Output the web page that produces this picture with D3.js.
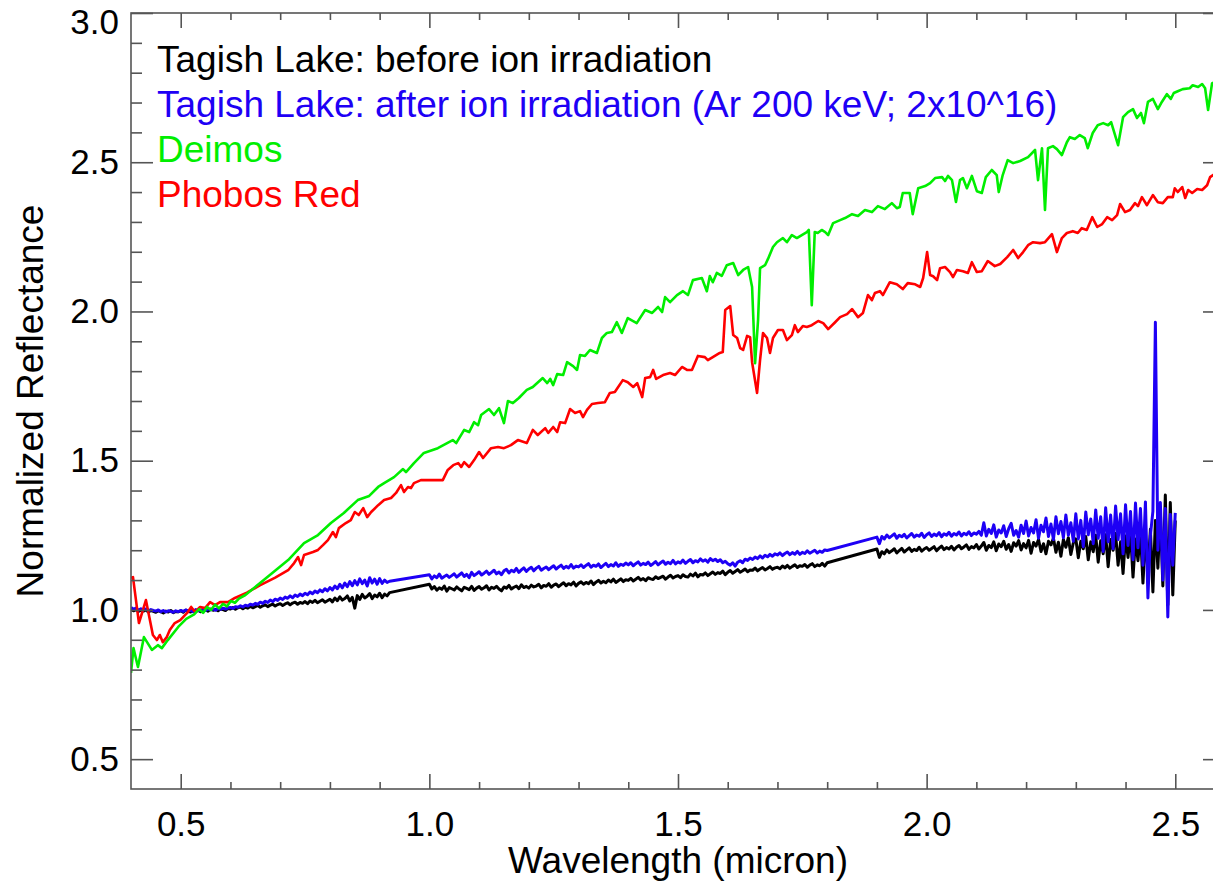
<!DOCTYPE html>
<html><head><meta charset="utf-8">
<script src="https://cdn.jsdelivr.net/npm/d3@7"></script>
<style>html,body{margin:0;padding:0;background:#fff;} svg{display:block;}</style>
</head><body><svg id="chart" width="1213" height="883"></svg>
<script>
// ---------- data ----------
const xMajorTicks = [0.5, 1.0, 1.5, 2.0, 2.5];
const xMinorTicks = [0.6,0.7,0.8,0.9,1.1,1.2,1.3,1.4,1.6,1.7,1.8,1.9,2.1,2.2,2.3,2.4];
const yMajorTicks = [0.5, 1.0, 1.5, 2.0, 2.5, 3.0];
const yMinorTicks = [0.6,0.7,0.8,0.9,1.1,1.2,1.3,1.4,1.6,1.7,1.8,1.9,2.1,2.2,2.3,2.4,2.6,2.7,2.8,2.9];

const legendLabels = [
  "Tagish Lake: before ion irradiation",
  "Tagish Lake: after ion irradiation (Ar 200 keV; 2x10^16)",
  "Deimos",
  "Phobos Red"
];

// Tagish Lake spectra: three sampled segments [start wavelength, step]
const tagishGrid = [[0.40, 0.005], [1.00, 0.005], [1.90, 0.005]];
const beforeSeg1 = [
 1.002,0.997,1.001,0.995,0.999,0.996,1.000,0.993,0.998,0.995,
 0.992,0.997,0.994,0.990,0.996,0.993,0.998,0.991,0.995,0.994,
 0.997,0.992,0.999,0.995,0.993,0.998,0.996,1.000,0.994,0.999,
 1.001,0.996,1.003,0.999,1.002,0.997,1.004,1.001,0.998,1.005,
 1.003,1.008,1.002,1.007,1.010,1.004,1.009,1.006,1.012,1.007,
 1.011,1.015,1.009,1.014,1.017,1.011,1.016,1.019,1.013,1.018,
 1.021,1.015,1.020,1.024,1.017,1.023,1.026,1.019,1.025,1.022,
 1.028,1.021,1.030,1.025,1.032,1.024,1.029,1.034,1.026,1.031,
 1.036,1.027,1.040,1.031,1.044,1.033,1.038,1.047,1.030,1.042,
 1.006,1.048,1.035,1.052,1.040,1.046,1.055,1.038,1.050,1.044,
 1.056,1.041,1.053,1.047,1.058];
const beforeSeg2 = [
 1.086,1.070,1.078,1.066,1.074,1.069,1.080,1.063,1.075,1.071,
 1.067,1.077,1.070,1.064,1.076,1.072,1.068,1.079,1.065,1.073,
 1.078,1.069,1.074,1.081,1.067,1.076,1.072,1.079,1.070,1.064,
 1.077,1.073,1.082,1.070,1.076,1.080,1.071,1.084,1.075,1.079,
 1.073,1.083,1.077,1.080,1.086,1.074,1.082,1.079,1.088,1.076,
 1.083,1.087,1.078,1.085,1.091,1.081,1.088,1.084,1.093,1.080,
 1.089,1.094,1.086,1.092,1.088,1.097,1.085,1.093,1.099,1.090,
 1.096,1.091,1.100,1.094,1.103,1.092,1.098,1.104,1.095,1.101,
 1.099,1.106,1.097,1.103,1.109,1.100,1.105,1.098,1.108,1.104,
 1.102,1.111,1.105,1.109,1.113,1.103,1.110,1.116,1.107,1.112,
 1.115,1.108,1.118,1.112,1.110,1.120,1.114,1.123,1.111,1.119,
 1.117,1.124,1.115,1.121,1.127,1.119,1.125,1.122,1.130,1.118,
 1.126,1.132,1.123,1.129,1.135,1.126,1.131,1.137,1.128,1.134,
 1.133,1.140,1.131,1.137,1.142,1.134,1.139,1.145,1.136,1.141,
 1.143,1.138,1.147,1.141,1.149,1.140,1.146,1.151,1.142,1.148,
 1.146,1.152,1.143,1.150,1.155,1.145,1.151,1.148,1.156,1.147,
 1.158];
const beforeSeg3 = [
 1.204,1.176,1.195,1.188,1.201,1.192,1.198,1.205,1.191,1.199,
 1.206,1.194,1.201,1.208,1.196,1.203,1.199,1.210,1.197,1.204,
 1.209,1.200,1.206,1.212,1.198,1.207,1.214,1.202,1.209,1.204,
 1.213,1.201,1.210,1.216,1.205,1.211,1.218,1.203,1.212,1.208,
 1.219,1.204,1.214,1.226,1.200,1.216,1.209,1.228,1.198,1.221,
 1.212,1.230,1.203,1.219,1.196,1.225,1.214,1.232,1.201,1.222,
 1.208,1.233,1.190,1.226,1.214,1.236,1.196,1.222,1.188,1.230,
 1.218,1.240,1.193,1.227,1.180,1.236,1.210,1.242,1.186,1.225,
 1.238,1.175,1.230,1.205,1.246,1.168,1.228,1.195,1.250,1.160,
 1.232,1.188,1.252,1.145,1.236,1.200,1.256,1.150,1.228,1.122,
 1.248,1.176,1.260,1.110,1.238,1.165,1.262,1.090,1.245,1.130,
 1.270,1.060,1.300,1.140,1.330,1.080,1.385,1.016,1.360,1.050,
 1.300];

const afterSeg1 = [
 1.008,1.002,1.006,0.999,1.004,1.000,1.003,0.997,1.001,0.998,
 0.996,1.000,0.994,0.998,0.993,0.997,0.995,0.992,0.997,0.994,
 0.998,0.995,1.000,0.996,0.999,0.994,1.001,0.997,0.999,1.002,
 0.998,1.003,1.000,1.004,0.999,1.005,1.002,1.006,1.003,1.007,
 1.008,1.005,1.011,1.009,1.014,1.010,1.016,1.013,1.019,1.016,
 1.022,1.019,1.026,1.022,1.029,1.025,1.033,1.028,1.036,1.032,
 1.040,1.035,1.043,1.039,1.047,1.041,1.050,1.045,1.053,1.048,
 1.056,1.051,1.060,1.054,1.063,1.058,1.067,1.061,1.071,1.064,
 1.075,1.067,1.080,1.071,1.086,1.074,1.090,1.078,1.095,1.081,
 1.098,1.084,1.104,1.088,1.100,1.080,1.108,1.090,1.103,1.086,
 1.105,1.089,1.100,1.092,1.096];
const afterSeg2 = [
 1.118,1.104,1.114,1.108,1.120,1.106,1.112,1.117,1.109,1.115,
 1.121,1.110,1.117,1.124,1.112,1.119,1.108,1.126,1.115,1.121,
 1.128,1.117,1.123,1.130,1.119,1.126,1.133,1.121,1.127,1.118,
 1.131,1.136,1.124,1.133,1.128,1.139,1.126,1.134,1.141,1.129,
 1.137,1.143,1.131,1.140,1.146,1.133,1.139,1.144,1.135,1.142,
 1.148,1.137,1.144,1.150,1.139,1.146,1.141,1.152,1.140,1.147,
 1.144,1.151,1.142,1.149,1.155,1.143,1.150,1.146,1.154,1.142,
 1.149,1.156,1.145,1.152,1.147,1.158,1.146,1.153,1.149,1.157,
 1.151,1.158,1.148,1.155,1.161,1.150,1.156,1.152,1.160,1.149,
 1.155,1.162,1.151,1.158,1.164,1.153,1.160,1.155,1.166,1.154,
 1.161,1.157,1.167,1.156,1.163,1.169,1.158,1.165,1.161,1.171,
 1.163,1.168,1.160,1.172,1.165,1.170,1.162,1.168,1.158,1.163,
 1.155,1.150,1.158,1.147,1.160,1.165,1.158,1.170,1.166,1.174,
 1.169,1.177,1.172,1.181,1.174,1.183,1.178,1.186,1.180,1.188,
 1.184,1.191,1.182,1.189,1.194,1.185,1.192,1.187,1.196,1.186,
 1.193,1.189,1.198,1.190,1.195,1.200,1.191,1.197,1.193,1.201,
 1.199];
const afterSeg3 = [
 1.244,1.222,1.246,1.238,1.251,1.242,1.248,1.255,1.240,1.250,
 1.245,1.253,1.241,1.249,1.256,1.244,1.251,1.247,1.257,1.243,
 1.252,1.258,1.246,1.254,1.249,1.259,1.245,1.255,1.250,1.260,
 1.247,1.256,1.251,1.261,1.248,1.257,1.252,1.262,1.249,1.258,
 1.254,1.263,1.250,1.292,1.248,1.270,1.256,1.285,1.244,1.268,
 1.258,1.282,1.246,1.272,1.290,1.250,1.266,1.244,1.284,1.256,
 1.298,1.248,1.276,1.258,1.302,1.240,1.284,1.262,1.308,1.246,
 1.288,1.236,1.312,1.255,1.296,1.242,1.318,1.250,1.292,1.230,
 1.322,1.238,1.300,1.212,1.328,1.252,1.305,1.222,1.335,1.240,
 1.312,1.196,1.342,1.228,1.318,1.205,1.348,1.236,1.322,1.188,
 1.352,1.216,1.330,1.168,1.358,1.208,1.340,1.150,1.362,1.040,
 1.250,1.330,1.964,1.200,1.360,1.100,1.340,0.976,1.320,1.150,
 1.325];

// Deimos: [wavelength, reflectance]
const deimos = [[0.400,0.789],[0.405,0.872],[0.414,0.809],[0.426,0.909],[0.442,0.866],[0.454,0.882],[0.462,0.872],[0.474,0.899],[0.495,0.943],[0.511,0.970],[0.527,0.985],[0.537,1.003],[0.545,0.990],[0.553,1.010],[0.561,1.000],[0.569,1.018],[0.577,1.005],[0.585,1.020],[0.593,1.012],[0.601,1.030],[0.609,1.024],[0.617,1.038],[0.630,1.050],[0.667,1.100],[0.716,1.167],[0.748,1.224],[0.776,1.251],[0.802,1.291],[0.828,1.325],[0.856,1.368],[0.879,1.382],[0.897,1.412],[0.909,1.425],[0.929,1.445],[0.947,1.472],[0.953,1.462],[0.969,1.492],[0.989,1.526],[1.017,1.542],[1.047,1.569],[1.054,1.559],[1.070,1.603],[1.080,1.596],[1.090,1.629],[1.098,1.619],[1.104,1.653],[1.120,1.673],[1.130,1.653],[1.140,1.676],[1.150,1.626],[1.158,1.700],[1.168,1.693],[1.180,1.710],
 [1.196,1.737],[1.208,1.747],[1.228,1.777],[1.237,1.760],[1.243,1.774],[1.249,1.753],[1.257,1.790],[1.269,1.787],[1.277,1.830],[1.289,1.817],[1.297,1.804],[1.303,1.854],[1.313,1.851],[1.323,1.871],[1.337,1.861],[1.347,1.911],[1.357,1.928],[1.367,1.931],[1.377,1.964],[1.387,1.928],[1.399,1.978],[1.417,1.961],[1.434,2.005],[1.448,1.995],[1.460,2.015],[1.468,1.998],[1.474,2.048],[1.484,2.031],[1.498,2.055],[1.510,2.068],[1.520,2.055],[1.530,2.105],[1.548,2.112],[1.558,2.068],[1.564,2.119],[1.570,2.098],[1.578,2.129],[1.588,2.119],[1.598,2.155],[1.611,2.162],[1.621,2.122],[1.631,2.139],[1.641,2.149],[1.649,2.082],[1.655,1.827],[1.661,1.971],[1.665,2.145],[1.675,2.155],[1.681,2.176],[1.691,2.216],[1.699,2.232],[1.711,2.246],[1.719,2.232],[1.729,2.256],[1.739,2.246],[1.749,2.256],[1.759,2.266],[1.763,2.273],[1.769,2.021],[1.775,2.266],[1.781,2.263],[1.789,2.273],[1.796,2.266],[1.802,2.256],[1.812,2.296],[1.826,2.306],
 [1.836,2.313],[1.850,2.326],[1.862,2.320],[1.876,2.340],[1.890,2.333],[1.902,2.353],[1.916,2.343],[1.930,2.363],[1.940,2.346],
 [1.946,2.350],[1.952,2.397],[1.966,2.397],[1.972,2.326],[1.983,2.413],[1.997,2.420],[2.007,2.430],[2.017,2.447],[2.031,2.450],[2.037,2.437],[2.043,2.454],[2.051,2.440],[2.059,2.367],[2.067,2.440],[2.073,2.447],[2.081,2.413],[2.091,2.454],[2.101,2.403],[2.111,2.397],[2.119,2.450],[2.131,2.474],[2.141,2.457],[2.145,2.400],[2.153,2.457],[2.163,2.507],[2.174,2.497],[2.188,2.504],[2.204,2.517],[2.218,2.541],[2.224,2.440],[2.232,2.547],[2.238,2.340],[2.244,2.547],[2.254,2.554],[2.262,2.544],[2.272,2.524],[2.282,2.567],[2.288,2.584],[2.298,2.578],[2.308,2.591],[2.318,2.581],[2.324,2.547],[2.334,2.598],[2.344,2.624],[2.355,2.631],[2.365,2.624],[2.371,2.634],[2.385,2.557],[2.395,2.651],[2.405,2.668],[2.415,2.678],[2.423,2.648],[2.431,2.665],[2.437,2.631],[2.445,2.702],[2.455,2.712],[2.465,2.678],[2.473,2.702],[2.483,2.728],[2.491,2.712],[2.497,2.732],[2.505,2.738],[2.515,2.745],[2.529,2.748],[2.535,2.758],[2.546,2.752],[2.554,2.762],[2.560,2.748],[2.566,2.675],[2.574,2.765],[2.585,2.770],[2.600,2.775]];

// Phobos Red: [wavelength, reflectance]
const phobosRed = [[0.400,1.107],[0.404,1.110],[0.416,0.956],[0.430,1.033],[0.438,0.966],[0.444,0.916],[0.452,0.899],[0.458,0.916],[0.464,0.892],[0.472,0.909],[0.478,0.933],[0.488,0.956],[0.499,0.966],[0.513,0.990],[0.521,1.010],[0.529,0.993],[0.539,1.010],[0.549,1.006],[0.559,1.026],[0.569,1.016],[0.579,1.026],[0.595,1.026],[0.609,1.040],[0.633,1.058],[0.659,1.082],[0.690,1.108],[0.716,1.133],[0.728,1.157],[0.736,1.177],[0.742,1.150],[0.748,1.184],[0.766,1.194],[0.776,1.201],[0.786,1.217],[0.796,1.234],[0.806,1.261],[0.812,1.244],[0.818,1.274],[0.832,1.291],[0.842,1.301],[0.850,1.328],[0.858,1.318],[0.867,1.341],[0.875,1.311],[0.883,1.328],[0.897,1.351],[0.909,1.368],[0.923,1.375],[0.933,1.392],[0.943,1.418],[0.949,1.395],[0.957,1.412],[0.963,1.408],[0.969,1.425],[0.983,1.435],[1.027,1.435],[1.037,1.469],[1.048,1.485],[1.058,1.492],[1.064,1.479],[1.070,1.495],[1.080,1.479],[1.090,1.502],[1.100,1.529],[1.108,1.509],[1.124,1.542],[1.138,1.546],[1.150,1.542],[1.164,1.552],[1.178,1.569],
 [1.196,1.559],[1.208,1.603],[1.218,1.586],[1.233,1.609],[1.239,1.593],[1.249,1.613],[1.257,1.596],[1.263,1.629],[1.273,1.626],[1.283,1.673],[1.293,1.660],[1.303,1.666],[1.309,1.646],[1.317,1.670],[1.327,1.690],[1.339,1.693],[1.353,1.696],[1.363,1.727],[1.373,1.730],[1.389,1.770],[1.399,1.763],[1.410,1.747],[1.418,1.760],[1.428,1.713],[1.434,1.777],[1.444,1.780],[1.450,1.804],[1.456,1.774],[1.470,1.787],[1.484,1.794],[1.494,1.787],[1.508,1.814],[1.518,1.804],[1.528,1.804],[1.540,1.851],[1.554,1.847],[1.560,1.837],[1.570,1.847],[1.584,1.861],[1.590,1.864],[1.595,2.005],[1.605,2.018],[1.611,1.921],[1.619,1.911],[1.625,1.877],[1.631,1.871],[1.639,1.918],[1.645,1.914],[1.649,1.830],[1.659,1.727],[1.665,1.837],[1.671,1.928],[1.679,1.911],[1.685,1.861],[1.691,1.911],[1.701,1.938],[1.711,1.938],[1.719,1.904],[1.729,1.921],[1.735,1.954],[1.741,1.931],[1.751,1.951],[1.759,1.948],[1.769,1.954],[1.782,1.968],[1.792,1.961],[1.802,1.941],[1.816,1.964],[1.826,1.981],[1.840,1.991],[1.850,2.008],[1.862,1.981],[1.872,1.995],[1.882,2.055],[1.890,2.038],[1.896,2.062],[1.906,2.068],[1.912,2.055],[1.926,2.098],[1.940,2.091],[1.952,2.075],[1.962,2.095],[1.977,2.091],[1.987,2.082],
 [1.993,2.112],[2.001,2.199],[2.007,2.122],[2.013,2.118],[2.021,2.105],[2.027,2.145],[2.037,2.149],[2.047,2.132],[2.053,2.115],[2.061,2.139],[2.073,2.135],[2.083,2.129],[2.091,2.165],[2.101,2.132],[2.111,2.135],[2.123,2.169],[2.137,2.152],[2.148,2.159],[2.162,2.182],[2.174,2.206],[2.184,2.179],[2.194,2.199],[2.204,2.222],[2.214,2.232],[2.228,2.229],[2.238,2.232],[2.252,2.259],[2.262,2.199],[2.272,2.246],[2.282,2.263],[2.294,2.269],[2.304,2.263],[2.312,2.279],[2.322,2.273],[2.333,2.316],[2.343,2.283],[2.353,2.293],[2.363,2.316],[2.373,2.306],[2.383,2.323],[2.389,2.360],[2.399,2.333],[2.409,2.340],[2.419,2.363],[2.425,2.353],[2.433,2.383],[2.443,2.356],[2.455,2.390],[2.465,2.366],[2.475,2.363],[2.485,2.383],[2.495,2.383],[2.499,2.413],[2.505,2.400],[2.514,2.417],[2.520,2.380],[2.526,2.407],[2.534,2.397],[2.544,2.410],[2.554,2.407],[2.564,2.423],[2.570,2.450],[2.576,2.457],[2.590,2.470],[2.600,2.475]];

// ---------- build ----------
function fromGrid(segs) {
  const out = [];
  segs.forEach((vals, k) => {
    const [w0, dw] = tagishGrid[k];
    vals.forEach((v, i) => out.push([+(w0 + i * dw).toFixed(3), v]));
  });
  return out;
}
const tagishBefore = fromGrid([beforeSeg1, beforeSeg2, beforeSeg3]);
const tagishAfter = fromGrid([afterSeg1, afterSeg2, afterSeg3]);

const colors = ["#000000", "#1e00f5", "#00ee00", "#ff0000"];
const FONT = "'Liberation Sans', Arial, Helvetica, sans-serif";
const FS_TICK = 35, FS_TEXT = 37;
const AXIS_COLOR = "#555";

const L = 131, R = 1225, T = 13, B = 789;
const x = d3.scaleLinear().domain([0.4, 2.6]).range([L, R]);
const y = d3.scaleLinear().domain([0.4, 3.0]).range([B, T]);

const svg = d3.select("#chart");
svg.append("rect").attr("width", 1213).attr("height", 883).attr("fill", "#fff");

svg.append("defs").append("clipPath").attr("id", "clip")
  .append("rect").attr("x", L).attr("y", T).attr("width", R - L).attr("height", B - T);

const line = d3.line().x(d => x(d[0])).y(d => y(d[1]));
const plot = svg.append("g").attr("clip-path", "url(#clip)");
const drawOrder = [[tagishBefore, 0, 3.0], [tagishAfter, 1, 3.0], [phobosRed, 3, 2.6], [deimos, 2, 2.6]];
drawOrder.forEach(([data, ci, sw]) => {
  plot.append("path").datum(data).attr("d", line)
    .attr("fill", "none").attr("stroke", colors[ci])
    .attr("stroke-width", sw).attr("stroke-linejoin", "round");
});

// frame
svg.append("rect").attr("x", L).attr("y", T).attr("width", R - L).attr("height", B - T)
  .attr("fill", "none").attr("stroke", AXIS_COLOR).attr("stroke-width", 1.6);

function styleAxis(g) {
  g.select(".domain").remove();
  g.selectAll(".tick line").attr("stroke", AXIS_COLOR).attr("stroke-width", 1.6);
  g.selectAll(".tick text").attr("fill", "#000").style("font-family", FONT).style("font-size", FS_TICK + "px");
}

// bottom
svg.append("g").attr("transform", `translate(0,${B})`)
  .call(d3.axisBottom(x).tickValues(xMajorTicks).tickSize(-15).tickPadding(22).tickFormat(d3.format(".1f")))
  .call(styleAxis);
svg.append("g").attr("transform", `translate(0,${B})`)
  .call(d3.axisBottom(x).tickValues(xMinorTicks).tickSize(-7).tickFormat(""))
  .call(styleAxis);
// top
svg.append("g").attr("transform", `translate(0,${T})`)
  .call(d3.axisTop(x).tickValues(xMajorTicks).tickSize(-15).tickFormat(""))
  .call(styleAxis);
svg.append("g").attr("transform", `translate(0,${T})`)
  .call(d3.axisTop(x).tickValues(xMinorTicks).tickSize(-7).tickFormat(""))
  .call(styleAxis);
// left
const leftAxis = svg.append("g").attr("transform", `translate(${L},0)`)
  .call(d3.axisLeft(y).tickValues(yMajorTicks).tickSize(-22).tickPadding(12).tickFormat(d3.format(".1f")))
  .call(styleAxis);
leftAxis.selectAll(".tick text").attr("transform", d => `translate(0,${Math.max(0, 22 - y(d))})`);
svg.append("g").attr("transform", `translate(${L},0)`)
  .call(d3.axisLeft(y).tickValues(yMinorTicks).tickSize(-11).tickFormat(""))
  .call(styleAxis);
// right
svg.append("g").attr("transform", `translate(${R},0)`)
  .call(d3.axisRight(y).tickValues(yMajorTicks).tickSize(-22).tickFormat(""))
  .call(styleAxis);
svg.append("g").attr("transform", `translate(${R},0)`)
  .call(d3.axisRight(y).tickValues(yMinorTicks).tickSize(-11).tickFormat(""))
  .call(styleAxis);

// axis titles
svg.append("text").attr("x", (L + R) / 2).attr("y", 873).attr("text-anchor", "middle")
  .style("font-family", FONT).style("font-size", FS_TEXT + "px").attr("fill", "#000")
  .text("Wavelength (micron)");
svg.append("text").attr("transform", `translate(43,${(T + B) / 2}) rotate(-90)`).attr("text-anchor", "middle")
  .style("font-family", FONT).style("font-size", FS_TEXT + "px").attr("fill", "#000")
  .text("Normalized Reflectance");

// legend
svg.append("g").selectAll("text").data(legendLabels).join("text")
  .attr("x", 157).attr("y", (d, i) => 72 + i * 45)
  .attr("fill", (d, i) => colors[i])
  .style("font-family", FONT).style("font-size", FS_TEXT + "px")
  .text(d => d);
</script></body></html>
